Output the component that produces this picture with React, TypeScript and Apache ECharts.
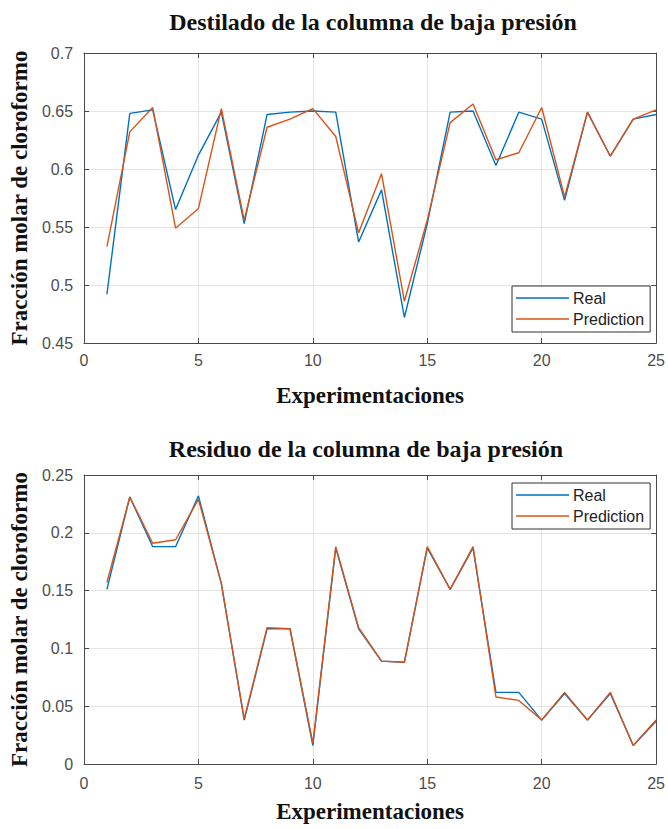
import React, { useEffect, useRef } from "react";
import * as echarts from "echarts";

const experiments = [1, 2, 3, 4, 5, 6, 7, 8, 9, 10, 11, 12, 13, 14, 15, 16, 17, 18, 19, 20, 21, 22, 23, 24, 25];

const destiladoReal = [0.492, 0.648, 0.651, 0.565, 0.612, 0.649, 0.553, 0.647, 0.649, 0.650, 0.649, 0.537, 0.582, 0.472, 0.553, 0.649, 0.650, 0.603, 0.649, 0.643, 0.573, 0.649, 0.611, 0.643, 0.647];
const destiladoPred = [0.533, 0.632, 0.653, 0.549, 0.566, 0.652, 0.556, 0.636, 0.643, 0.652, 0.628, 0.545, 0.596, 0.486, 0.556, 0.640, 0.656, 0.608, 0.614, 0.653, 0.576, 0.649, 0.611, 0.643, 0.651];

const residuoReal = [0.151, 0.231, 0.188, 0.188, 0.232, 0.156, 0.038, 0.117, 0.117, 0.016, 0.187, 0.117, 0.089, 0.088, 0.187, 0.151, 0.187, 0.062, 0.062, 0.038, 0.061, 0.038, 0.061, 0.016, 0.037];
const residuoPred = [0.157, 0.231, 0.191, 0.194, 0.229, 0.156, 0.039, 0.118, 0.117, 0.018, 0.188, 0.118, 0.089, 0.088, 0.188, 0.151, 0.188, 0.058, 0.055, 0.038, 0.062, 0.038, 0.062, 0.016, 0.038];

const titles = ["Destilado de la columna de baja presión", "Residuo de la columna de baja presión"];
const xName = "Experimentaciones";
const yName = "Fracción molar de cloroformo";
const seriesNames = ["Real", "Prediction"];

const BLUE = "#0072BD";
const ORANGE = "#D95319";
const AXIS = "#4a4a4a";
const SERIF = "'Liberation Serif', 'Times New Roman', serif";
const SANS = "'Liberation Sans', Arial, sans-serif";

const pairs = (ys: number[]) => ys.map((y, i) => [experiments[i], y]);

export default function App() {
  const ref = useRef<HTMLDivElement>(null);
  useEffect(() => {
    document.body.style.margin = "0";
    if (!ref.current) return;
    const chart = echarts.init(ref.current, null, { renderer: "svg" });

    const xMain = (gridIndex: number, nameGap: number, margin: number) => ({
      gridIndex,
      type: "value",
      min: 0,
      max: 25,
      interval: 5,
      position: "bottom",
      axisLine: { show: true, onZero: false, lineStyle: { color: AXIS, width: 1 } },
      axisTick: { show: true, inside: true, length: 5, lineStyle: { color: AXIS } },
      axisLabel: { fontSize: 16, color: "#4d4d4d", margin, fontFamily: SANS },
      splitLine: { show: true, lineStyle: { color: "#e4e4e4", width: 1 } },
      name: xName,
      nameLocation: "middle",
      nameGap,
      nameTextStyle: { fontFamily: SERIF, fontWeight: "bold", fontSize: 23, color: "#111" },
    });
    const xTop = (gridIndex: number) => ({
      gridIndex,
      type: "value",
      min: 0,
      max: 25,
      interval: 5,
      position: "top",
      axisLine: { show: true, onZero: false, lineStyle: { color: AXIS, width: 1 } },
      axisTick: { show: true, inside: true, length: 5, lineStyle: { color: AXIS } },
      axisLabel: { show: false },
      splitLine: { show: false },
    });
    const yMain = (gridIndex: number, min: number, max: number) => ({
      gridIndex,
      type: "value",
      min,
      max,
      interval: 0.05,
      position: "left",
      axisLine: { show: true, onZero: false, lineStyle: { color: AXIS, width: 1 } },
      axisTick: { show: true, inside: true, length: 5, lineStyle: { color: AXIS } },
      axisLabel: { fontSize: 16, color: "#4d4d4d", margin: 11, fontFamily: SANS },
      splitLine: { show: true, lineStyle: { color: "#e4e4e4", width: 1 } },
      name: yName,
      nameLocation: "middle",
      nameGap: 49,
      nameTextStyle: { fontFamily: SERIF, fontWeight: "bold", fontSize: 23, color: "#111" },
    });
    const yRight = (gridIndex: number, min: number, max: number) => ({
      gridIndex,
      type: "value",
      min,
      max,
      interval: 0.05,
      position: "right",
      axisLine: { show: true, onZero: false, lineStyle: { color: AXIS, width: 1 } },
      axisTick: { show: true, inside: true, length: 5, lineStyle: { color: AXIS } },
      axisLabel: { show: false },
      splitLine: { show: false },
    });

    const line = (name: string, data: number[], color: string, idx: number) => ({
      name,
      type: "line",
      xAxisIndex: idx,
      yAxisIndex: idx,
      data: pairs(data),
      symbol: "none",
      showSymbol: false,
      lineStyle: { color, width: 1.4 },
      itemStyle: { color },
    });

    const legend = (top: number) => ({
      data: seriesNames,
      orient: "vertical",
      left: 512,
      top,
      icon: "rect",
      itemWidth: 53,
      itemHeight: 1.5,
      itemGap: 5,
      padding: [4, 6, 5, 4],
      borderColor: "#333",
      borderWidth: 1,
      backgroundColor: "#fff",
      selectedMode: false,
      textStyle: { fontSize: 16, color: "#222", fontFamily: SANS, padding: [0, 0, 0, -1] },
    });

    const titleStyle = { fontFamily: SERIF, fontWeight: "bold", fontSize: 24, color: "#111" };

    chart.setOption({
      animation: false,
      backgroundColor: "#fff",
      title: [
        { text: titles[0], left: 368, top: 5, textAlign: "center", textStyle: titleStyle },
        { text: titles[1], left: 361, top: 432, textAlign: "center", textStyle: titleStyle },
      ],
      grid: [
        { left: 83, top: 53, width: 575, height: 290, containLabel: false },
        { left: 83, top: 475, width: 575, height: 289, containLabel: false },
      ],
      xAxis: [xMain(0, 41, 9), xMain(1, 36, 11), xTop(0), xTop(1)],
      yAxis: [yMain(0, 0.45, 0.7), yMain(1, 0, 0.25), yRight(0, 0.45, 0.7), yRight(1, 0, 0.25)],
      legend: [legend(286), legend(483)],
      series: [
        line(seriesNames[0], destiladoReal, BLUE, 0),
        line(seriesNames[1], destiladoPred, ORANGE, 0),
        line(seriesNames[0], residuoReal, BLUE, 1),
        line(seriesNames[1], residuoPred, ORANGE, 1),
      ],
    });
    return () => chart.dispose();
  }, []);
  return <div ref={ref} style={{ width: 668, height: 829 }} />;
}
